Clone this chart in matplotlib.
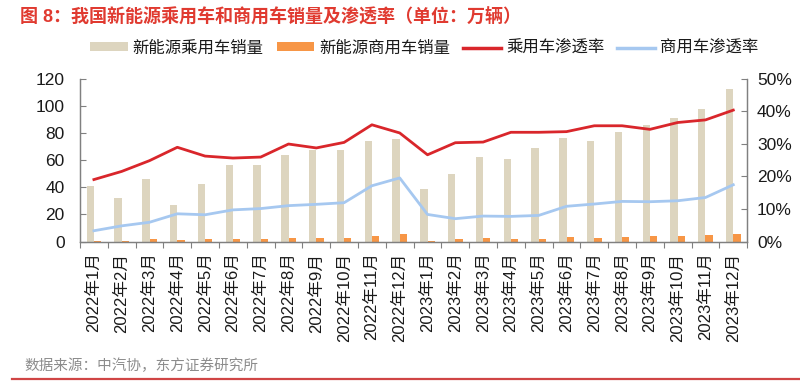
import matplotlib
matplotlib.use("Agg")
import matplotlib.pyplot as plt
from matplotlib.patches import Patch
from matplotlib.lines import Line2D
import numpy as np

plt.rcParams['font.family'] = ['Liberation Sans', 'Noto Sans CJK SC', 'DejaVu Sans']

months = [f"2022年{m}月" for m in range(1, 13)] + [f"2023年{m}月" for m in range(1, 13)]
passenger_sales = [41, 32, 46, 27, 42, 56.5, 56, 63.5, 67, 67.5, 74, 75.5,
                   39, 50, 62, 61, 68.5, 76.5, 74, 80.5, 85.5, 91, 97.5, 112.5]
commercial_sales = [0.6, 0.6, 1.5, 1.3, 1.5, 2.2, 2.0, 2.4, 2.7, 2.7, 4.0, 5.4,
                    0.7, 1.7, 2.9, 2.2, 2.0, 3.2, 2.5, 3.2, 4.0, 4.0, 4.7, 5.7]
passenger_pen = [19.0, 21.5, 24.8, 28.9, 26.2, 25.6, 25.9, 29.9, 28.7, 30.4, 35.8, 33.3,
                 26.6, 30.3, 30.5, 33.5, 33.5, 33.7, 35.5, 35.5, 34.4, 36.5, 37.3, 40.3]
commercial_pen = [3.3, 4.8, 5.9, 8.5, 8.2, 9.7, 10.1, 11.0, 11.4, 11.9, 17.1, 19.5,
                  8.3, 7.0, 7.8, 7.7, 8.0, 10.8, 11.5, 12.3, 12.2, 12.5, 13.5, 17.4]
left_ticks = [0, 20, 40, 60, 80, 100, 120]
right_ticks = [0, 10, 20, 30, 40, 50]
labels = ["新能源乘用车销量", "新能源商用车销量", "乘用车渗透率", "商用车渗透率"]

c_pass = '#ddd5bf'
c_comm = '#f79646'
c_red = '#d9262b'
c_blue = '#a6c8f0'
spine_c = '#808080'

fig = plt.figure(figsize=(8, 3.82), dpi=100)
ax = fig.add_axes([0.1, 0.3678, 0.834, 0.4267])
ax2 = ax.twinx()

x = np.arange(len(months))
w = 0.26
ax.bar(x, passenger_sales, width=-w, align='edge', color=c_pass, zorder=2)
ax.bar(x, commercial_sales, width=w, align='edge', color=c_comm, zorder=2)
ax2.plot(x, passenger_pen, color=c_red, lw=2.0, zorder=3)
ax2.plot(x, commercial_pen, color=c_blue, lw=2.0, zorder=3)

ax.set_xlim(-0.5, len(months) - 0.5)
ax.set_ylim(0, 120)
ax2.set_ylim(0, 50)
ax.set_yticks(left_ticks)
ax.set_yticklabels([str(v) for v in left_ticks])
ax2.set_yticks(right_ticks)
ax2.set_yticklabels([f"{v}%" for v in right_ticks])

ax.set_xticks(x)
ax.set_xticklabels(months, rotation=90, fontsize=12, color='#1a1a1a')
ax.tick_params(axis='x', length=0, pad=8)
ax.set_xticks(np.arange(-0.5, len(months)), minor=True)
ax.tick_params(axis='x', which='minor', length=4, direction='out', color=spine_c, width=0.8)
ax.tick_params(axis='y', direction='in', length=4, pad=11, labelsize=12.5, color=spine_c, labelcolor='#1a1a1a')
ax2.tick_params(axis='y', direction='in', length=4, pad=7, labelsize=12.5, color=spine_c, labelcolor='#1a1a1a')

for a in (ax, ax2):
    a.spines['top'].set_visible(False)
    for s in ('left', 'right', 'bottom'):
        a.spines[s].set_color(spine_c)
        a.spines[s].set_linewidth(0.9)
ax2.set_zorder(ax.get_zorder() + 1)
ax2.patch.set_visible(False)

handles = [Patch(facecolor=c_pass, edgecolor='none'),
           Patch(facecolor=c_comm, edgecolor='none'),
           Line2D([0], [0], color=c_red, lw=2.5),
           Line2D([0], [0], color=c_blue, lw=2.5)]
fig.legend(handles, labels, loc='center', bbox_to_anchor=(0.53, 1 - 48 / 382), ncol=4,
           frameon=False, fontsize=11.8, handlelength=2.3, handleheight=0.45,
           handletextpad=0.3, columnspacing=0.8, labelcolor='#1a1a1a')

fig.text(20 / 800, 1 - 16 / 382, "图 8：我国新能源乘用车和商用车销量及渗透率（单位：万辆）",
         color='#e03a30', fontsize=13, fontweight='bold', va='center', ha='left')
fig.text(24 / 800, 1 - 366 / 382, "数据来源：中汽协，东方证券研究所",
         color='#8c8c8c', fontsize=10.5, va='center', ha='left')
fig.add_artist(Line2D([12 / 800, 1.0], [1 - 379 / 382] * 2, transform=fig.transFigure,
                      color='#d04545', lw=1.6))

fig.savefig("out.png", dpi=100)
